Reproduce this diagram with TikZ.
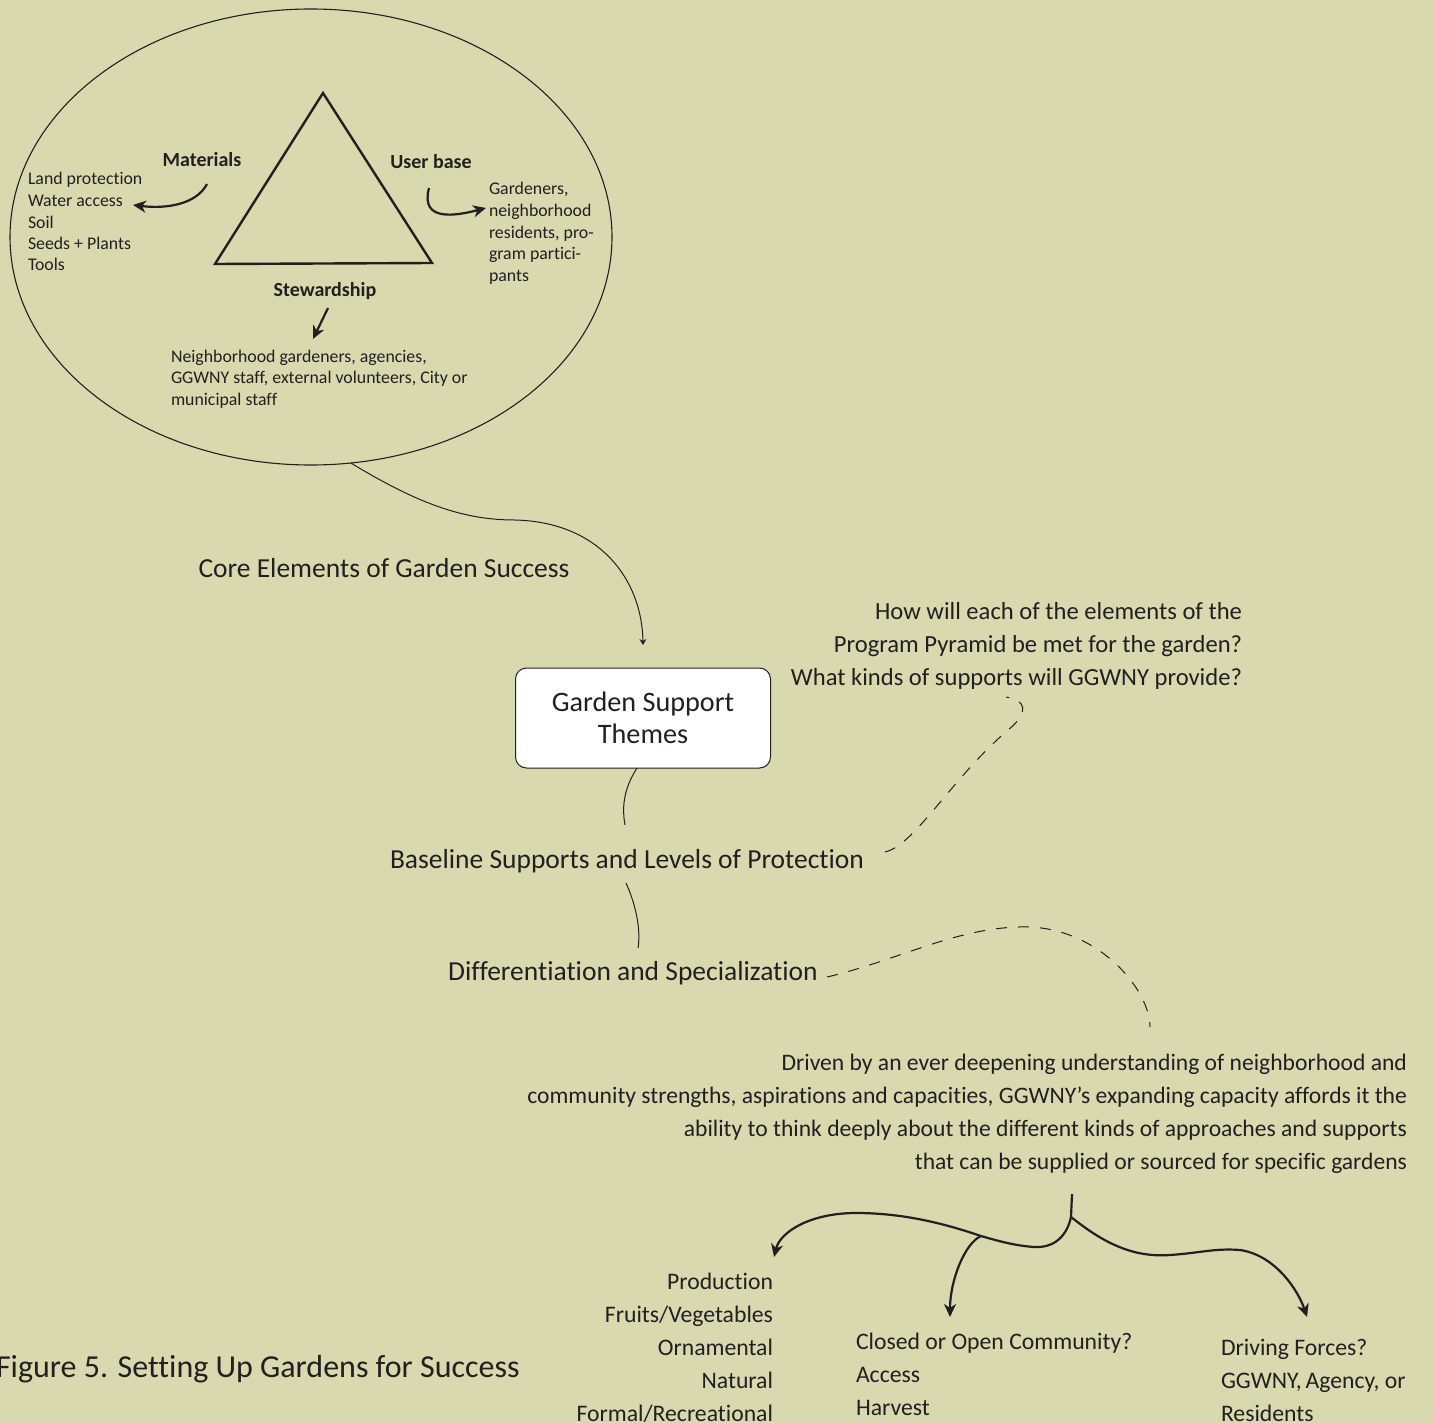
\documentclass[tikz,border=0pt]{standalone}
\usepackage{fontspec}
\setmainfont{Carlito}[Ligatures={NoCommon}]
\usetikzlibrary{shapes.geometric,arrows.meta}
\definecolor{bg}{RGB}{216,217,175}
\definecolor{ink}{RGB}{35,31,32}
\begin{document}
\begin{tikzpicture}[x=1pt,y=-1pt,
  every node/.style={inner sep=0pt, outer sep=0pt, text=ink},
  small/.style={font=\fontsize{17.8}{21.5}\selectfont, align=left},
  lbl/.style={font=\fontsize{20}{22}\selectfont\bfseries},
  big/.style={font=\fontsize{27.5}{33}\selectfont},
  list/.style={font=\fontsize{23.7}{33}\selectfont},
  ques/.style={font=\fontsize{24.6}{33}\selectfont, align=right},
  para/.style={font=\fontsize{23.6}{33}\selectfont, align=right},
  boxtxt/.style={font=\fontsize{28.2}{32}\selectfont, align=center},
  figtxt/.style={font=\fontsize{32}{36}\selectfont},
  thickarrow/.style={draw=ink, line width=2.2pt, -{Stealth[length=13pt,width=12pt,inset=4pt]}},
  thinline/.style={draw=ink, line width=1pt},
  dashline/.style={draw=ink, line width=1pt, dash pattern=on 11pt off 11pt},
]
\fill[bg] (0,0) rectangle (1434,1423);
\useasboundingbox (0,0) rectangle (1434,1423);

% ellipse and triangle
\node[draw=ink, line width=1.1pt, ellipse, minimum width=602, minimum height=456] (ell) at (311,237) {};
\draw[draw=ink, line width=2.4pt, line join=miter] (323,93) -- (432,263) -- (215,264) -- cycle;

% labels
\node[lbl, anchor=base] (mat) at (202,167) {Materials};
\node[lbl, anchor=base] (usr) at (431,169) {User base};
\node[lbl, anchor=base] (stw) at (325,296) {Stewardship};
\node[small, anchor=base west] (matl) at (28,271) {Land protection\\Water access\\Soil\\Seeds + Plants\\Tools};
\node[small, anchor=base west] (usrl) at (489,281) {Gardeners,\\neighborhood\\residents, pro-\\gram partici-\\pants};
\node[small, anchor=base west] (stwl) at (171,405) {Neighborhood gardeners, agencies,\\GGWNY staff, external volunteers, City or\\municipal staff};

\coordinate (matS) at (207,184);
\coordinate (matT) at (133,205);
\coordinate (usrS) at (429,188);
\coordinate (usrT) at (486,208);
\coordinate (stwS) at (328,308);
\coordinate (stwT) at (313,339);
\draw[thickarrow] (matS) .. controls (196,205) and (165,209) .. (matT);
\draw[thickarrow] (usrS) .. controls (420,222) and (455,216) .. (usrT);
\draw[thickarrow] (stwS) -- (stwT);

% core elements
\node[big, anchor=base] (core) at (384,577) {Core Elements of Garden Success};
\node[draw=ink, line width=1pt, fill=white, rounded corners=11pt, minimum width=255, minimum height=100, boxtxt] (gst) at (643,718) {Garden Support\\Themes};
\draw[thinline, -{Stealth[length=6pt,width=7pt]}] (ell.-80) .. controls (420,505) and (465,520) .. (515,520) .. controls (600,522) and (642,580) .. ([yshift=23pt]gst.north);

% question
\node[ques, anchor=base east] (q) at (1242,685) {How will each of the elements of the\\Program Pyramid be met for the garden?\\What kinds of supports will GGWNY provide?};

\node[big, anchor=base] (base) at (627,868) {Baseline Supports and Levels of Protection};
\node[big, anchor=base] (diff) at (633,980) {Differentiation and Specialization};

\coordinate (gstB) at (637,768);
\coordinate (baseT) at (625,825);
\coordinate (baseB) at (626,883);
\coordinate (diffT) at (638,948);
\draw[thinline] (gstB) .. controls (623,790) and (622,808) .. (baseT);
\draw[thinline] (baseB) .. controls (636,905) and (641,930) .. (diffT);

\coordinate (baseR) at (885,852);
\coordinate (qB) at (1006,697);
\draw[dashline] (baseR) .. controls (915,845) and (950,780) .. (1008,730) .. controls (1030,712) and (1026,700) .. (qB);
\coordinate (diffR) at (827,977);
\coordinate (paraT) at (1150,1027);
\draw[dashline] (diffR) .. controls (900,960) and (960,925) .. (1030,927) .. controls (1100,930) and (1150,990) .. (paraT);

% paragraph
\node[para, anchor=base east] (para) at (1407,1169) {Driven by an ever deepening understanding of neighborhood and\\community strengths, aspirations and capacities, GGWNY’s expanding capacity affords it the\\ability to think deeply about the different kinds of approaches and supports\\that can be supplied or sourced for specific gardens};

% bottom tree
\coordinate (stemT) at (1072,1194);
\coordinate (jn) at (1071,1217);
\coordinate (split) at (981,1236);
\draw[draw=ink, line width=2.2pt] (stemT) -- (jn);
\draw[thickarrow] (jn) .. controls (1066,1240) and (1050,1248) .. (1035,1247) .. controls (1015,1246) and (995,1240) .. (split) .. controls (940,1222) and (900,1213) .. (856,1213) .. controls (810,1213) and (780,1232) .. (774,1257);
\draw[thickarrow] (split) .. controls (965,1243) and (950,1280) .. (950,1317);
\draw[thickarrow] (jn) .. controls (1100,1240) and (1130,1258) .. (1170,1255) .. controls (1200,1253) and (1215,1248) .. (1240,1250) .. controls (1275,1255) and (1298,1290) .. (1307,1317);

\node[list, anchor=base east, align=right] (prod) at (773,1421) {Production\\Fruits/Vegetables\\Ornamental\\Natural\\Formal/Recreational};
\node[list, anchor=base west, align=left] (closed) at (856,1415) {Closed or Open Community?\\Access\\Harvest};
\node[list, anchor=base west, align=left] (drive) at (1221,1421) {Driving Forces?\\GGWNY,\thinspace Agency, or\\Residents};
\node[figtxt, anchor=base west] (fig) at (-4,1377) {Figure 5. Setting Up Gardens for Success};
\end{tikzpicture}
\end{document}
